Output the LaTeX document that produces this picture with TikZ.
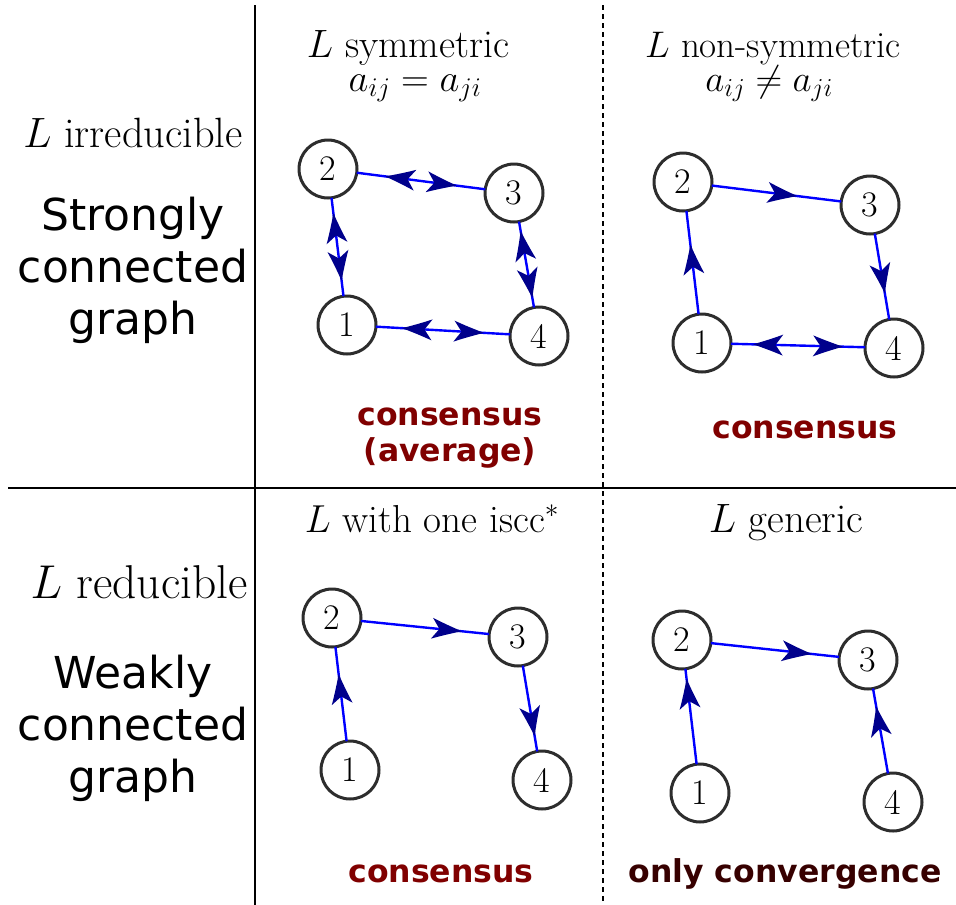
\documentclass[tikz,border=0pt]{standalone}
\usepackage{fix-cm}
\usepackage{fontspec}
\newfontfamily\djv{DejaVu Sans}
\usetikzlibrary{decorations.markings}
\definecolor{edgeblue}{RGB}{0,0,255}
\definecolor{headblue}{RGB}{0,0,140}
\definecolor{nodegray}{RGB}{45,45,45}
\definecolor{conscol}{RGB}{128,0,0}
\definecolor{convcol}{RGB}{55,0,0}
\newcommand\headshape{\fill[headblue] (0pt,0pt) .. controls (-9pt,2.8pt) and (-20pt,6.5pt) .. (-30pt,10.5pt) -- (-22.5pt,0pt) -- (-30pt,-10.5pt) .. controls (-20pt,-6.5pt) and (-9pt,-2.8pt) .. (0pt,0pt) -- cycle;}
\newcommand\headfwd[1]{\begin{scope}[xshift=#1pt]\headshape\end{scope}}
\newcommand\headbwd[1]{\begin{scope}[xshift=-#1pt,xscale=-1]\headshape\end{scope}}
\newcommand\fsz[1]{\fontsize{#1}{#1}\selectfont}
\begin{document}
\begin{tikzpicture}[x=1pt,y=-1pt,
  vert/.style={circle, draw=nodegray, line width=3pt, minimum size=58pt, inner sep=0pt, outer sep=0pt, fill=white, font=\fsz{36}},
  edge/.style={draw=edgeblue, line width=2.4pt},
  one/.style={edge, postaction={decorate, decoration={markings, mark=at position 0.5 with {\headfwd{#1}}}}},
  one/.default=20,
  two/.style={edge, postaction={decorate, decoration={markings, mark=at position 0.5 with {\headfwd{#1}\headbwd{#1}}}}},
  two/.default=36,
  lab/.style={anchor=base, inner sep=0pt, font=\fsz{38}},
  big/.style={anchor=base, inner sep=0pt, align=center, font=\djv\fontsize{44}{52}\selectfont},
  res/.style={anchor=base, inner sep=0pt, align=center, text=conscol, font=\djv\bfseries\fontsize{31.5}{36}\selectfont},
  sep/.style={line width=1.6pt, black},
  dsep/.style={line width=1.3pt, black, dash pattern=on 5pt off 4pt}
]
\useasboundingbox (0,0) rectangle (956,905);
% separators
\coordinate (vt) at (255,5); \coordinate (vb) at (255,905);
\coordinate (hl) at (8,488); \coordinate (hr) at (956,488);
\coordinate (dt) at (603,5); \coordinate (db) at (603,905);
\draw[sep] (vt) -- (vb);
\draw[sep] (hl) -- (hr);
\draw[dsep] (dt) -- (db);

% row labels
\node[lab, anchor=base east, font=\fsz{42.4}] (irr) at (243,147) {$L$ irreducible};
\node[big] (sc) at (133,334) {Strongly\\connected\\graph};
\node[lab, anchor=base east, font=\fsz{47.5}] (red) at (248,598) {$L$ reducible};
\node[big] (wc) at (133,792) {Weakly\\connected\\graph};

% column headers
\node[lab, font=\fsz{39.5}] (h1) at (408,57) {$L$ symmetric};
\node[lab, font=\fsz{38.5}] (h1m) at (415,91) {$a_{ij}=a_{ji}$};
\node[lab, font=\fsz{37}] (h2) at (773,57) {$L$ non-symmetric};
\node[lab, font=\fsz{37}] (h2m) at (769,91) {$a_{ij}\neq a_{ji}$};
\node[lab, font=\fsz{39}] (h3) at (432,532) {$L$ with one iscc$^*$};
\node[lab, font=\fsz{41}] (h4) at (786,532) {$L$ generic};

% results
\node[res] (r1) at (450,461) {consensus\\(average)};
\node[res] (r2) at (805,438) {consensus};
\node[res] (r3) at (441,882) {consensus};
\node[res, text=convcol] (r4) at (785,882) {only convergence};

% top-left graph
\node[vert] (a1) at (347,325) {1};
\node[vert] (a2) at (328,169) {2};
\node[vert] (a3) at (514,193) {3};
\node[vert] (a4) at (539,336) {4};
\draw[two=36] (a2) -- (a3);
\draw[two=34] (a2) -- (a1);
\draw[two=34] (a3) -- (a4);
\draw[two=41] (a1) -- (a4);

% top-right graph
\node[vert] (b1) at (702,343) {1};
\node[vert] (b2) at (683,182) {2};
\node[vert] (b3) at (870,205) {3};
\node[vert] (b4) at (894,348) {4};
\draw[one=18] (b1) -- (b2);
\draw[one=21] (b2) -- (b3);
\draw[one=17] (b3) -- (b4);
\draw[two=45] (b1) -- (b4);

% bottom-left graph
\node[vert] (c1) at (350,770) {1};
\node[vert] (c2) at (332,618) {2};
\node[vert] (c3) at (518,637) {3};
\node[vert] (c4) at (542,780) {4};
\draw[one=20] (c1) -- (c2);
\draw[one=37] (c2) -- (c3);
\draw[one=28] (c3) -- (c4);

% bottom-right graph
\node[vert] (d1) at (700,793) {1};
\node[vert] (d2) at (682,640) {2};
\node[vert] (d3) at (868,660) {3};
\node[vert] (d4) at (893,802) {4};
\draw[one=38] (d1) -- (d2);
\draw[one=37] (d2) -- (d3);
\draw[one=25] (d4) -- (d3);
\end{tikzpicture}
\end{document}
